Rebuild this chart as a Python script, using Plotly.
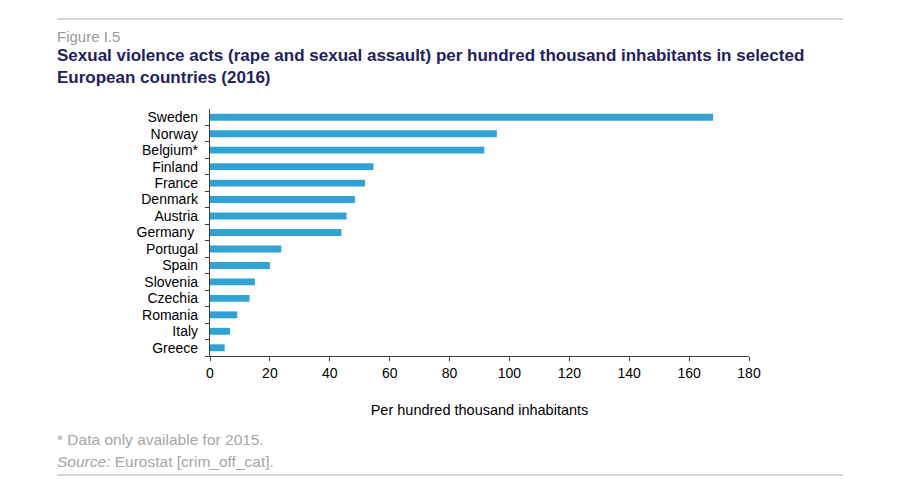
import plotly.graph_objects as go

countries = ["Sweden", "Norway", "Belgium*", "Finland", "France", "Denmark", "Austria",
             "Germany ", "Portugal", "Spain", "Slovenia", "Czechia", "Romania", "Italy", "Greece"]
values = [168.0, 95.8, 91.6, 54.6, 51.8, 48.4, 45.6, 43.9, 23.8, 20.0, 15.0, 13.2, 9.1, 6.7, 4.9]
x_ticks = [0, 20, 40, 60, 80, 100, 120, 140, 160, 180]

FONT = "Liberation Sans, Arial, sans-serif"
OFF = 8  # page body margin in the browser

# reference pixel positions of the plot area
W0, W1 = 210, 749
H0, H1 = 109, 356
FW, FH = 912 - OFF, 494 - OFF

def px(x): return (x - W0) / (W1 - W0)
def py(y): return (H1 - y) / (H1 - H0)

fig = go.Figure(go.Bar(
    x=values, y=countries, orientation="h",
    marker=dict(color="#2ea3d4", line=dict(width=0)),
    hoverinfo="x+y",
))

fig.update_layout(
    width=FW, height=FH,
    margin=dict(l=W0 - OFF, r=FW - (W1 - OFF), t=H0 - OFF, b=FH - (H1 - OFF)),
    paper_bgcolor="white", plot_bgcolor="white",
    font=dict(family=FONT, size=14, color="#000000"),
    bargap=0.58,
    showlegend=False,
    xaxis=dict(
        range=[0, 180], tickvals=x_ticks, showgrid=False, zeroline=False,
        showline=True, linecolor="#404040", linewidth=1.3,
        ticks="outside", ticklen=4, tickcolor="#404040",
        tickfont=dict(size=14, color="#000"),
        title=dict(text="Per hundred thousand inhabitants", standoff=24,
                   font=dict(size=14.5, color="#000")),
        fixedrange=True,
    ),
    yaxis=dict(
        categoryorder="array", categoryarray=countries[::-1],
        tickmode="array", tickvals=countries, ticktext=countries,
        showgrid=False, zeroline=False,
        showline=True, linecolor="#404040", linewidth=1.3,
        ticks="outside", ticklen=4, tickcolor="#404040", tickson="boundaries",
        tickfont=dict(size=14, color="#000"),
        ticklabelstandoff=8,
        fixedrange=True,
    ),
    shapes=[
        dict(type="line", xref="paper", yref="paper", x0=px(57), x1=px(843), y0=py(19), y1=py(19),
             line=dict(color="#c8c8c8", width=1.5)),
        dict(type="line", xref="paper", yref="paper", x0=px(57), x1=px(843), y0=py(475), y1=py(475),
             line=dict(color="#c8c8c8", width=1.5)),
    ],
)

fig.add_annotation(text="Figure I.5", xref="paper", yref="paper", x=px(55), y=py(36),
                   xanchor="left", yanchor="middle", showarrow=False,
                   font=dict(size=15, color="#9a9a9a", family=FONT))
fig.add_annotation(text="<b>Sexual violence acts (rape and sexual assault) per hundred thousand inhabitants in selected<br>European countries (2016)</b>",
                   xref="paper", yref="paper", x=px(55), y=py(66),
                   xanchor="left", yanchor="middle", align="left", showarrow=False,
                   font=dict(size=17, color="#1f2161", family=FONT))
fig.add_annotation(text="* Data only available for 2015.", xref="paper", yref="paper",
                   x=px(55), y=py(439), xanchor="left", yanchor="middle", showarrow=False,
                   font=dict(size=15.5, color="#a6a6a6", family=FONT))
fig.add_annotation(text="<i>Source:</i> Eurostat [crim_off_cat].", xref="paper", yref="paper",
                   x=px(55), y=py(461), xanchor="left", yanchor="middle", showarrow=False,
                   font=dict(size=15.5, color="#a6a6a6", family=FONT))

fig.write_html("out.html", config={"displayModeBar": False})
